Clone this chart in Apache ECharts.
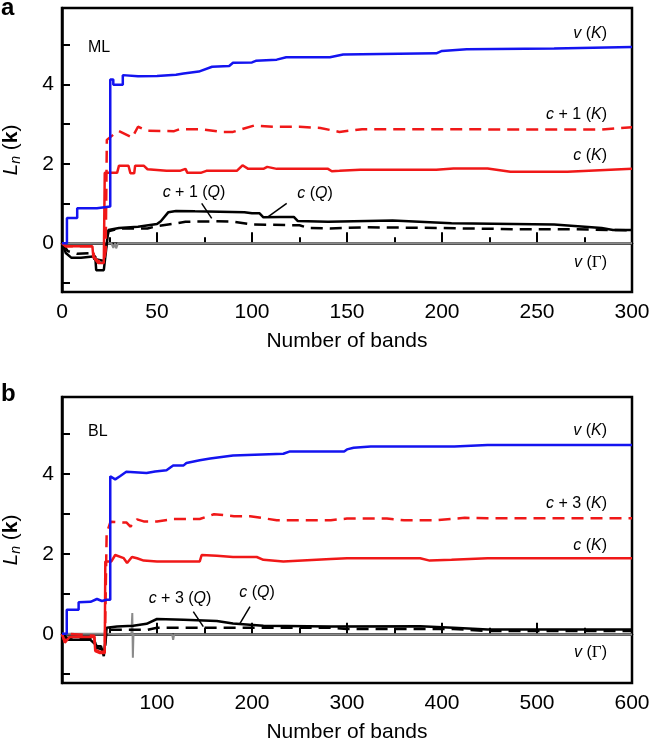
<!DOCTYPE html>
<html>
<head>
<meta charset="utf-8">
<script src="https://cdn.jsdelivr.net/npm/echarts@6/dist/echarts.min.js"></script>
<style>
html,body{margin:0;padding:0;background:#fff;}
#chart{width:651px;height:741px;}
</style>
</head>
<body>
<div id="chart"></div>
<script>
// ---------- Panel a (ML) ----------
const a_xTicks = [0, 50, 100, 150, 200, 250, 300];
const a_vK = [[0,0],[2.6,0],[2.6,0.63],[8,0.63],[8,0.88],[18.4,0.88],[18.4,0.92],[25.4,0.92],[25.4,4.12],[27,4.12],[27,3.99],[32,3.99],[32,4.23],[40,4.2],[50,4.21],[60,4.24],[64,4.27],[72,4.32],[79,4.44],[88,4.46],[90,4.54],[100,4.55],[102,4.59],[113,4.62],[118,4.68],[141,4.68],[148,4.75],[197,4.78],[200,4.84],[213,4.88],[259,4.9],[300,4.94]];
const a_c1K = [[0,0],[2,-0.08],[16,-0.08],[17,-0.35],[19,-0.45],[22,-0.45],[23,-0.2],[23.6,2.6],[27,2.73],[30,2.82],[37,2.66],[40,2.93],[45,2.83],[59,2.82],[62,2.87],[73,2.87],[84,2.8],[90,2.8],[101,2.96],[111,2.93],[125,2.93],[136,2.9],[146,2.8],[158,2.87],[215,2.87],[225,2.86],[284,2.86],[300,2.92]];
const a_cK = [[0,0],[2,-0.08],[16,-0.08],[16.5,-0.35],[19,-0.5],[22,-0.5],[22.5,1.77],[29,1.77],[30,1.95],[35,1.95],[36,1.76],[38,1.76],[38.5,1.95],[43,1.95],[45,1.86],[55,1.82],[62,1.82],[63,1.87],[65,1.87],[66,1.77],[73,1.77],[76,1.82],[92,1.82],[95,1.96],[98,1.87],[106,1.87],[108,1.92],[113,1.87],[140,1.87],[142,1.81],[146,1.82],[157,1.85],[197,1.85],[206,1.88],[224,1.88],[236,1.8],[266,1.8],[300,1.87]];
const a_cQ = [[0,0],[2,-0.25],[5,-0.37],[10,-0.37],[11,-0.33],[17.5,-0.33],[18,-0.68],[22,-0.68],[24.4,0.33],[30,0.38],[40,0.41],[50,0.48],[52,0.55],[56,0.78],[60,0.81],[70,0.8],[96,0.78],[100,0.75],[104,0.75],[106,0.65],[115,0.66],[122,0.66],[124,0.56],[140,0.54],[174,0.57],[205,0.5],[259,0.47],[284,0.38],[290,0.33],[300,0.33]];
const a_c1Q = [[0,0],[3,-0.2],[8,-0.27],[16,-0.25],[17,-0.4],[22,-0.45],[24.4,0.3],[30,0.37],[45,0.37],[50,0.43],[59,0.49],[65,0.54],[81,0.55],[90,0.54],[100,0.47],[125,0.45],[130,0.38],[141,0.37],[160,0.4],[200,0.38],[240,0.35],[270,0.35],[300,0.32]];
const a_vG = [[0,0],[26,0],[27,-0.12],[28,0],[28.5,-0.13],[29.5,0],[56,0],[57,-0.05],[58,0],[96,0],[97,-0.04],[98,0],[150,0],[151,-0.03],[152,0],[230,0],[231,-0.04],[232,0],[300,0]];

// ---------- Panel b (BL) ----------
const b_xTicks = [0, 100, 200, 300, 400, 500, 600];
const b_vK = [[0,0],[5,0],[5,0.6],[17.5,0.6],[17.5,0.79],[30,0.8],[36.8,0.87],[42,0.82],[47,0.85],[50.8,0.85],[50.8,3.94],[56,3.86],[61,3.94],[67.7,4.05],[89,4.02],[98,4.06],[110,4.09],[117,4.21],[128,4.21],[131,4.27],[145,4.34],[156,4.38],[180,4.46],[233,4.5],[240,4.56],[297,4.56],[300,4.61],[307,4.65],[325,4.68],[413,4.68],[448,4.72],[600,4.72]];
const b_c3K = [[0,0],[3,-0.2],[8,0],[34,-0.05],[35,-0.4],[40,-0.45],[45,-0.45],[47,2.51],[51,2.8],[68,2.78],[72,2.68],[79,2.86],[86,2.81],[100,2.81],[117,2.87],[145,2.87],[160,2.99],[181,2.94],[198,2.94],[226,2.84],[283,2.84],[300,2.88],[342,2.88],[360,2.84],[395,2.84],[424,2.9],[448,2.89],[600,2.89]];
const b_cK = [[0,0],[3,-0.22],[8,-0.08],[34,-0.08],[35,-0.43],[40,-0.48],[45,-0.48],[45.6,1.81],[52,1.81],[56,1.97],[65,1.89],[68.5,1.77],[73.6,1.92],[79,1.89],[86,1.83],[100,1.81],[145,1.81],[147,1.97],[163,1.95],[180,1.92],[205,1.92],[212,1.85],[233,1.81],[283,1.87],[300,1.89],[377,1.89],[387,1.83],[410,1.85],[448,1.89],[600,1.89]];
const b_cQ = [[0,0],[5,-0.15],[30,-0.15],[37,-0.31],[41,-0.31],[44,-0.56],[46,-0.6],[47,0.15],[58,0.18],[75,0.2],[89,0.25],[100,0.37],[128,0.35],[163,0.32],[180,0.26],[212,0.2],[283,0.18],[377,0.19],[412,0.15],[448,0.11],[600,0.11]];
const b_c3Q = [[0,0],[5,-0.1],[34,-0.1],[36,-0.35],[45,-0.4],[47,0.1],[90,0.1],[100,0.15],[283,0.15],[300,0.12],[412,0.12],[448,0.07],[600,0.07]];
const b_vG = [[0,0],[45,0],[46,0.05],[73,-0.02],[74,0.52],[74.6,-0.6],[75.2,-0.02],[116,-0.02],[117,-0.15],[118,-0.02],[200,-0.02],[201,-0.06],[202,-0.02],[350,-0.02],[351,-0.06],[352,-0.02],[600,-0.02]];

// ---------- shared axis values ----------
const yTickValues = [-1, 0, 1, 2, 3, 4, 5];
const yLabelValues = [0, 2, 4];

const FONT = 'Liberation Sans, Arial, Helvetica, sans-serif';
const BLUE = '#1414f0', RED = '#f01818', BLACK = '#000', GRAY = '#8a8a8a';

const chart = echarts.init(document.getElementById('chart'), null, {renderer: 'canvas'});

function xAxis(gi, maxV, interval, hideZero) {
  return {
    type: 'value', gridIndex: gi, min: 0, max: maxV, interval: interval,
    name: 'Number of bands', nameLocation: 'middle', nameGap: 39,
    nameTextStyle: {fontFamily: FONT, fontSize: 21, color: '#000'},
    axisLine: {show: true, lineStyle: {color: '#000', width: 2.5}},
    axisTick: {show: true, inside: true, length: 11, lineStyle: {color: '#000', width: 2}},
    minorTick: {show: true, splitNumber: 2, length: 6, lineStyle: {color: '#000', width: 2}},
    axisLabel: {fontFamily: FONT, fontSize: 21, color: '#000', margin: 10, showMaxLabel: true, showMinLabel: true,
      formatter: v => (hideZero && v === 0) ? '' : String(v)},
    splitLine: {show: false}
  };
}
function yAxis(gi) {
  return {
    type: 'value', gridIndex: gi, min: -1.23, max: 5.92,
    name: '{i|L}{sub|n} ({b|k})', nameLocation: 'middle', nameGap: 39, nameRotate: 90,
    nameTextStyle: {fontFamily: FONT, fontSize: 21, color: '#000',
      rich: {
        i: {fontFamily: FONT, fontSize: 21, fontStyle: 'italic', color: '#000'},
        sub: {fontFamily: FONT, fontSize: 14, fontStyle: 'italic', color: '#000', padding: [10, 0, 0, 0]},
        b: {fontFamily: FONT, fontSize: 21, fontWeight: 'bold', color: '#000'}
      }},
    axisLine: {show: true, lineStyle: {color: '#000', width: 2.5}},
    axisTick: {show: true, inside: true, length: 8, customValues: yTickValues, lineStyle: {color: '#000', width: 2}},
    axisLabel: {fontFamily: FONT, fontSize: 21, color: '#000', margin: 8, customValues: yLabelValues},
    splitLine: {show: false}
  };
}

function line(name, data, gi, color, dashed, width, z) {
  return {
    name: name, type: 'line', xAxisIndex: gi, yAxisIndex: gi, data: data,
    showSymbol: false, symbol: 'none', smooth: false, animation: false, z: z,
    lineStyle: {color: color, width: width, type: dashed ? [12, 7] : 'solid'}
  };
}

function label(x, y, rich, align) {
  return {
    type: 'text', x: x, y: y, z: 100,
    style: {
      text: rich, align: align || 'right', verticalAlign: 'middle',
      fontFamily: FONT, fontSize: 16, fill: '#000',
      rich: {
        i: {fontFamily: FONT, fontSize: 16, fontStyle: 'italic', fill: '#000'},
        g: {fontFamily: 'Liberation Serif, DejaVu Serif, serif', fontSize: 17, fill: '#000'}
      }
    }
  };
}
function pointer(x1, y1, x2, y2) {
  return {type: 'line', z: 100, shape: {x1: x1, y1: y1, x2: x2, y2: y2}, style: {stroke: '#000', lineWidth: 1.5}};
}

const option = {
  backgroundColor: '#fff',
  animation: false,
  grid: [
    {left: 62, top: 8, width: 570, height: 284, show: true, borderColor: '#000', borderWidth: 2.5, backgroundColor: 'transparent', containLabel: false, outerBoundsMode: 'none'},
    {left: 62, top: 397, width: 570, height: 286, show: true, borderColor: '#000', borderWidth: 2.5, backgroundColor: 'transparent', containLabel: false, outerBoundsMode: 'none'}
  ],
  xAxis: [xAxis(0, 300, 50, false), xAxis(1, 600, 100, true)],
  yAxis: [yAxis(0), yAxis(1)],
  series: [
    line('v(Γ)', a_vG, 0, GRAY, false, 2, 1),
    line('c+1(Q)', a_c1Q, 0, BLACK, true, 2.5, 2),
    line('c(Q)', a_cQ, 0, BLACK, false, 2.5, 3),
    line('c(K)', a_cK, 0, RED, false, 2.5, 4),
    line('c+1(K)', a_c1K, 0, RED, true, 2.5, 5),
    line('v(K)', a_vK, 0, BLUE, false, 2.5, 6),
    line('v(Γ)', b_vG, 1, GRAY, false, 2, 1),
    line('c+3(Q)', b_c3Q, 1, BLACK, true, 2.5, 2),
    line('c(Q)', b_cQ, 1, BLACK, false, 2.5, 3),
    line('c(K)', b_cK, 1, RED, false, 2.5, 4),
    line('c+3(K)', b_c3K, 1, RED, true, 2.5, 5),
    line('v(K)', b_vK, 1, BLUE, false, 2.5, 6)
  ],
  graphic: [
    {type: 'text', x: 1, y: 8, z: 100, style: {text: 'a', fontFamily: FONT, fontSize: 24, fontWeight: 'bold', fill: '#000', verticalAlign: 'middle'}},
    {type: 'text', x: 1, y: 394, z: 100, style: {text: 'b', fontFamily: FONT, fontSize: 24, fontWeight: 'bold', fill: '#000', verticalAlign: 'middle'}},
    label(88, 48, 'ML', 'left'),
    label(607, 34, '{i|v} ({i|K})'),
    label(607, 115, '{i|c} + 1 ({i|K})'),
    label(607, 156, '{i|c} ({i|K})'),
    label(607, 263, '{i|v} ({g|Γ})'),
    label(194, 193, '{i|c} + 1 ({i|Q})', 'center'),
    label(315, 194, '{i|c} ({i|Q})', 'center'),
    pointer(201.7, 203.3, 211.7, 218.3),
    pointer(286.7, 203.3, 268.3, 216.7),
    label(88, 432, 'BL', 'left'),
    label(607, 431, '{i|v} ({i|K})'),
    label(607, 504, '{i|c} + 3 ({i|K})'),
    label(607, 546, '{i|c} ({i|K})'),
    label(607, 653, '{i|v} ({g|Γ})'),
    label(180, 599, '{i|c} + 3 ({i|Q})', 'center'),
    label(257, 593, '{i|c} ({i|Q})', 'center'),
    pointer(193.3, 611.7, 203.3, 626.7),
    pointer(250, 606.7, 240, 623.3)
  ]
};
chart.setOption(option);
</script>
</body>
</html>
